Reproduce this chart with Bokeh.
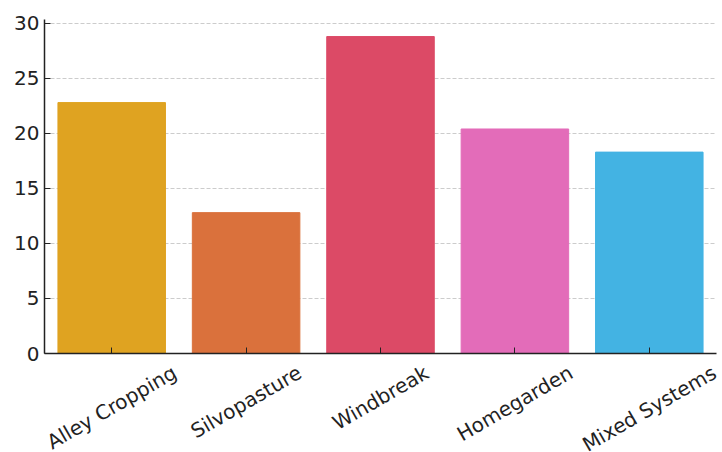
import math
from bokeh.plotting import figure
from bokeh.models import ColumnDataSource, Range1d, CustomJSTickFormatter
from bokeh.core.properties import value
from bokeh.embed import file_html
from bokeh.resources import INLINE

categories = ["Alley Cropping", "Silvopasture", "Windbreak", "Homegarden", "Mixed Systems"]
values = [22.8, 12.8, 28.8, 20.4, 18.3]
colors = ["#DFA321", "#DA713C", "#DC4A66", "#E36CB9", "#43B3E3"]
y_ticks = [0, 5, 10, 15, 20, 25, 30]

FONT = "DejaVu Sans"
FS = 20
ANGLE = math.pi / 6
W, H = 722, 452
LEFT, RIGHT, TOP = 44, 6, 19
AXIS_Y = 353         # pixel row of the x axis line
TOP_H = 364          # height of the bar figure
BOT_H = H - TOP_H    # strip holding the rotated category labels
PAD = 9              # gap between axis line and top of the labels

# approximate DejaVu Sans advance widths (units per 2048 em)
_W = {"A": 1401, "l": 569, "e": 1260, "y": 1212, " ": 651, "C": 1430, "r": 842,
      "o": 1253, "p": 1300, "i": 569, "n": 1298, "g": 1300, "S": 1300, "v": 1212,
      "a": 1255, "s": 1067, "t": 803, "u": 1298, "W": 2025, "d": 1300, "b": 1300,
      "k": 1186, "H": 1540, "m": 1995, "M": 1767, "x": 1212}


def text_width(s):
    return sum(_W.get(c, 1250) for c in s) / 2048 * FS


src = ColumnDataSource(dict(cat=categories, val=values, color=colors))

p = figure(x_range=categories, y_range=Range1d(0, 30.35), width=W, height=TOP_H,
           output_backend="svg", toolbar_location=None,
           min_border_left=LEFT, min_border_right=RIGHT, min_border_top=TOP,
           min_border_bottom=TOP_H - AXIS_Y)
p.vbar(x="cat", top="val", width=0.8, color="color", source=src)

p.outline_line_color = None
p.xgrid.grid_line_color = None
p.ygrid.grid_line_color = "#cccccc"
p.ygrid.grid_line_dash = "4 2"
p.ygrid.grid_line_width = 1
p.yaxis.ticker = y_ticks

for ax in (p.xaxis[0], p.yaxis[0]):
    ax.axis_line_color = "#222222"
    ax.axis_line_width = 1.5
    ax.major_tick_in = 6
    ax.major_tick_out = 0
    ax.minor_tick_line_color = None
    ax.major_tick_line_color = "#222222"
    ax.major_label_text_font = FONT
    ax.major_label_text_font_size = f"{FS}px"
    ax.major_label_text_color = "#222222"
    ax.major_label_text_font_style = "normal"

p.yaxis.major_label_standoff = 5
p.xaxis.formatter = CustomJSTickFormatter(code="return ''")
p.xaxis.major_label_standoff = 0

# label strip: rotated category labels centred under each tick
n = len(categories)
ppu = (W - LEFT - RIGHT) / n
p2 = figure(x_range=Range1d(-LEFT / ppu, n + RIGHT / ppu), y_range=Range1d(-BOT_H, 0),
            width=W, height=BOT_H, output_backend="svg", toolbar_location=None,
            x_axis_location=None, y_axis_location=None,
            min_border_left=0, min_border_right=0, min_border_top=0, min_border_bottom=0)
p2.outline_line_color = None
p2.xgrid.grid_line_color = None
p2.ygrid.grid_line_color = None

ink_h = 0.95 * FS
xs, ys = [], []
for i, c in enumerate(categories):
    w = text_width(c)
    half = (w * math.sin(ANGLE) + ink_h * math.cos(ANGLE)) / 2
    xs.append(i + 0.5)
    ys.append(-(AXIS_Y + PAD + half - TOP_H))

p2.text(x=xs, y=ys, text=categories, angle=ANGLE, text_align="center",
        text_baseline="middle", text_font=value(FONT), text_font_size=value(f"{FS}px"),
        text_color="#222222")

open("out.html", "w").write(file_html([p, p2], INLINE))
